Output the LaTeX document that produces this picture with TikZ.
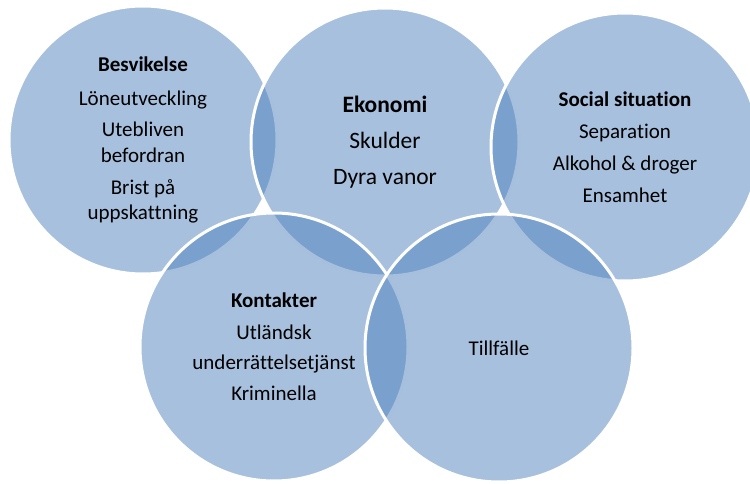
\documentclass[tikz,border=0pt]{standalone}
\usepackage{fontspec}
\setmainfont{Carlito}[Ligatures=NoCommon]
\usetikzlibrary{positioning}
\definecolor{bubbleblue}{RGB}{79,129,189}

\begin{document}
\begin{tikzpicture}[x=1pt,y=-1pt]
  \tikzstyle{bubble}=[circle,minimum size=268pt,inner sep=0pt,
  		      fill=bubbleblue,fill opacity=0.5,text opacity=1,
  		      draw=white,draw opacity=1,line width=3pt,align=center,
  		      font=\fontsize{21}{25.5}\selectfont]
  \tikzstyle{big bubble}=[bubble,font=\fontsize{23.5}{30}\selectfont]
  \useasboundingbox (0,0) rectangle (750,484);
  \node [bubble] (besvikelse) at (143,140)
    {\textbf{Besvikelse}\\[8pt] Löneutveckling\\[6pt] Utebliven\\ befordran\\[6.5pt] Brist på\\ uppskattning};
  \node [big bubble] (ekonomi) at (385,142)
    {\textbf{Ekonomi}\\[6pt] Skulder\\[6pt] Dyra vanor};
  \node [bubble] (social) at (625,147)
    {\textbf{Social situation}\\[6.5pt] Separation\\[7pt] Alkohol \& droger\\[6.5pt] Ensamhet};
  \node [bubble] (kontakter) at (274,347)
    {\textbf{Kontakter}\\[6.5pt] Utländsk\\[4.5pt] underrättelsetjänst\\[5.5pt] Kriminella};
  \node [bubble] (tillfalle) at (499,348) {Tillfälle};
\end{tikzpicture}
\end{document}
